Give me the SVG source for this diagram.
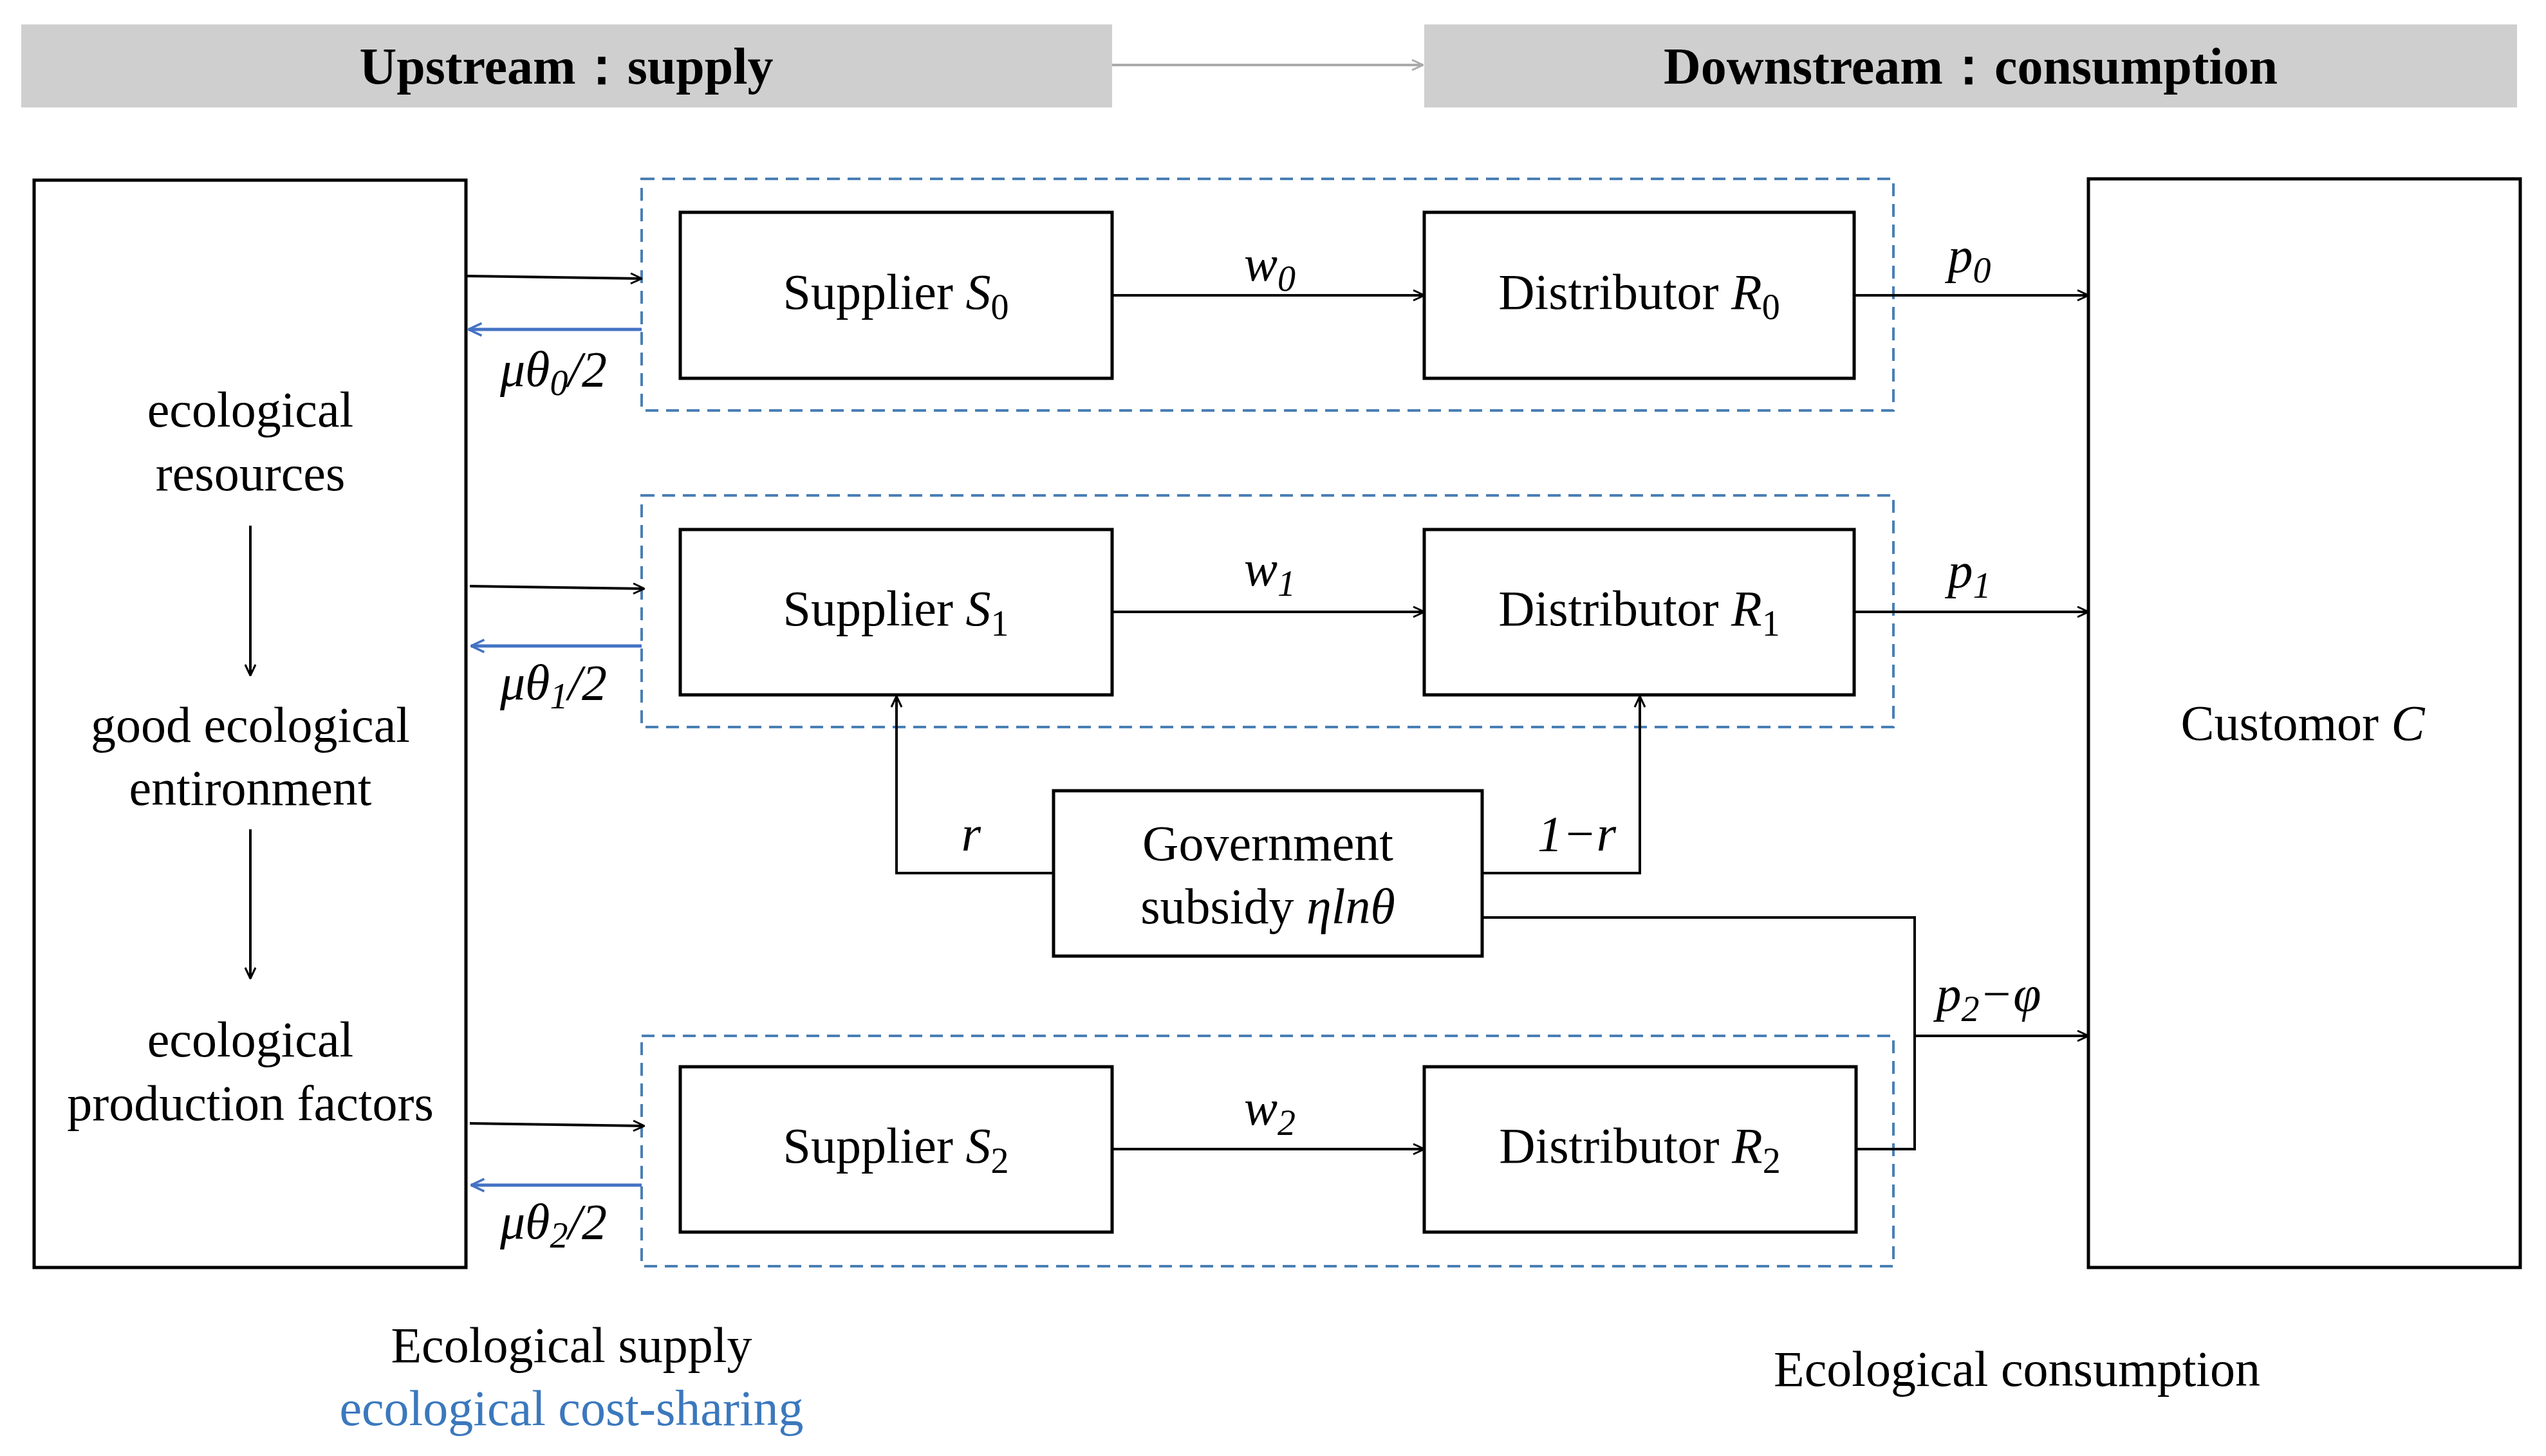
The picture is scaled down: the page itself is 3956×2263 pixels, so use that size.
<svg xmlns="http://www.w3.org/2000/svg" width="3956" height="2263" viewBox="0 0 3956 2263">
<style>
text{font-family:"Liberation Serif","Times New Roman",serif;font-size:78px;fill:#000;text-anchor:middle}
.hd{font-weight:bold;font-size:80px}
.it{font-style:italic}
.sub{font-size:56px}
.box{fill:#fff;stroke:#000;stroke-width:5}
.dash{fill:none;stroke:#4a7fb5;stroke-width:4;stroke-dasharray:20 12}
.ln{fill:none;stroke:#000;stroke-width:4}
.bl{fill:none;stroke:#4472c4;stroke-width:5}
.blt{fill:#3b78bd}
</style>
<defs>
<marker id="a" viewBox="0 0 20 20" refX="19" refY="10" markerWidth="20" markerHeight="20" markerUnits="userSpaceOnUse" orient="auto"><path d="M2,2 L19,10 L2,18" fill="none" stroke="#000" stroke-width="3"/></marker>
<marker id="ab" viewBox="0 0 20 20" refX="19" refY="10" markerWidth="24" markerHeight="24" markerUnits="userSpaceOnUse" orient="auto"><path d="M2,2 L19,10 L2,18" fill="none" stroke="#4472c4" stroke-width="3"/></marker>
<marker id="ag" viewBox="0 0 20 20" refX="19" refY="10" markerWidth="20" markerHeight="20" markerUnits="userSpaceOnUse" orient="auto"><path d="M2,2 L19,10 L2,18" fill="none" stroke="#aaa" stroke-width="3"/></marker>
</defs>
<rect width="3956" height="2263" fill="#fff"/>
<g id="header-up"><rect x="33" y="38" width="1695" height="129" fill="#d0cfcf"/><text class="hd" x="880" y="130">Upstream：supply</text></g>
<g id="header-down"><rect x="2213" y="38" width="1698" height="129" fill="#d0cfcf"/><text class="hd" x="3062" y="130">Downstream：consumption</text></g>
<g id="eco"><rect class="box" x="53" y="280" width="671" height="1690"/>
<text x="389" y="663">ecological</text><text x="389" y="762">resources</text>
<text x="389" y="1153">good ecological</text><text x="389" y="1251">entironment</text>
<text x="389" y="1642">ecological</text><text x="389" y="1741">production factors</text></g>
<g id="customer"><rect class="box" x="3245" y="278" width="671" height="1692"/><text x="3578" y="1150">Customor <tspan class="it">C</tspan></text></g>
<g id="groups"><rect class="dash" x="997" y="278" width="1945" height="360"/><rect class="dash" x="997" y="770" width="1945" height="360"/><rect class="dash" x="997" y="1610" width="1945" height="358"/></g>
<g id="s0"><rect class="box" x="1057" y="330" width="671" height="258"/><text x="1392" y="480">Supplier <tspan class="it">S</tspan><tspan class="sub" dy="16">0</tspan></text></g>
<g id="r0"><rect class="box" x="2213" y="330" width="668" height="258"/><text x="2547" y="480">Distributor <tspan class="it">R</tspan><tspan class="sub" dy="16">0</tspan></text></g>
<g id="s1"><rect class="box" x="1057" y="823" width="671" height="257"/><text x="1392" y="972">Supplier <tspan class="it">S</tspan><tspan class="sub" dy="16">1</tspan></text></g>
<g id="r1"><rect class="box" x="2213" y="823" width="668" height="257"/><text x="2547" y="972">Distributor <tspan class="it">R</tspan><tspan class="sub" dy="16">1</tspan></text></g>
<g id="s2"><rect class="box" x="1057" y="1658" width="671" height="257"/><text x="1392" y="1807">Supplier <tspan class="it">S</tspan><tspan class="sub" dy="16">2</tspan></text></g>
<g id="r2"><rect class="box" x="2213" y="1658" width="671" height="257"/><text x="2548" y="1807">Distributor <tspan class="it">R</tspan><tspan class="sub" dy="16">2</tspan></text></g>
<g id="gov"><rect class="box" x="1637" y="1229" width="666" height="257"/><text x="1970" y="1337">Government</text><text x="1970" y="1435">subsidy <tspan class="it">ηlnθ</tspan></text></g>
<g id="connectors">
<line x1="1728" y1="101" x2="2211" y2="101" stroke="#aaa" stroke-width="4" marker-end="url(#ag)"/>
<line class="ln" x1="724" y1="429" x2="997" y2="433" marker-end="url(#a)"/>
<line class="ln" x1="730" y1="911" x2="1001" y2="915" marker-end="url(#a)"/>
<line class="ln" x1="730" y1="1746" x2="1001" y2="1750" marker-end="url(#a)"/>
<line class="bl" x1="997" y1="512" x2="728" y2="512" marker-end="url(#ab)"/>
<line class="bl" x1="997" y1="1004" x2="732" y2="1004" marker-end="url(#ab)"/>
<line class="bl" x1="997" y1="1842" x2="732" y2="1842" marker-end="url(#ab)"/>
<line class="ln" x1="1728" y1="459" x2="2213" y2="459" marker-end="url(#a)"/>
<line class="ln" x1="1728" y1="951" x2="2213" y2="951" marker-end="url(#a)"/>
<line class="ln" x1="1728" y1="1786" x2="2213" y2="1786" marker-end="url(#a)"/>
<line class="ln" x1="2881" y1="459" x2="3245" y2="459" marker-end="url(#a)"/>
<line class="ln" x1="2881" y1="951" x2="3245" y2="951" marker-end="url(#a)"/>
<polyline class="ln" points="1637,1357 1393,1357 1393,1082" marker-end="url(#a)"/>
<polyline class="ln" points="2303,1357 2548,1357 2548,1082" marker-end="url(#a)"/>
<polyline class="ln" points="2303,1426 2975,1426 2975,1786 2884,1786"/>
<line class="ln" x1="2975" y1="1610" x2="3245" y2="1610" stroke-width="5" marker-end="url(#a)"/>
</g>
<g id="labels">
<text class="it" x="860" y="600" font-size="68">μθ<tspan class="sub" dy="14">0</tspan><tspan dy="-14">/2</tspan></text>
<text class="it" x="860" y="1087" font-size="68">μθ<tspan class="sub" dy="14">1</tspan><tspan dy="-14">/2</tspan></text>
<text class="it" x="860" y="1925" font-size="68">μθ<tspan class="sub" dy="14">2</tspan><tspan dy="-14">/2</tspan></text>
<text class="it" x="1973" y="436">w<tspan class="sub" dy="16">0</tspan></text>
<text class="it" x="1973" y="910">w<tspan class="sub" dy="16">1</tspan></text>
<text class="it" x="1973" y="1748">w<tspan class="sub" dy="16">2</tspan></text>
<text class="it" x="3060" y="423">p<tspan class="sub" dy="16">0</tspan></text>
<text class="it" x="3060" y="913">p<tspan class="sub" dy="16">1</tspan></text>
<text class="it" x="3090" y="1571">p<tspan class="sub" dy="16">2</tspan><tspan dy="-16">−φ</tspan></text>
<text class="it" x="1509" y="1322">r</text>
<text class="it" x="2450" y="1322">1−r</text>
<text x="888" y="2117">Ecological supply</text>
<text class="blt" x="888" y="2215">ecological cost-sharing</text>
<text x="3134" y="2154">Ecological consumption</text>
</g>
<g id="arrows-left">
<line class="ln" x1="389" y1="817" x2="389" y2="1050" marker-end="url(#a)"/>
<line class="ln" x1="389" y1="1289" x2="389" y2="1521" marker-end="url(#a)"/>
</g>
</svg>
